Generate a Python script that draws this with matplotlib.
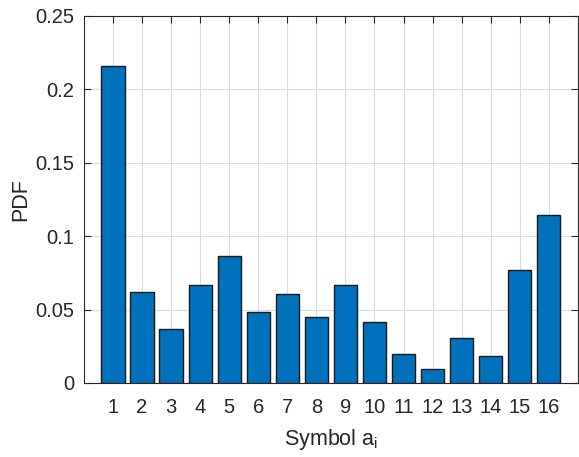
import matplotlib
matplotlib.use('Agg')
import matplotlib.pyplot as plt
import numpy as np

# symbol index and estimated probability
symbols = np.arange(1, 17)
pdf = [0.216, 0.062, 0.0365, 0.0668, 0.0865, 0.0484, 0.0606, 0.045,
       0.0668, 0.0418, 0.0198, 0.0095, 0.0307, 0.0184, 0.077, 0.1145]
yticks = [0, 0.05, 0.1, 0.15, 0.2, 0.25]
ytick_labels = ['0', '0.05', '0.1', '0.15', '0.2', '0.25']

plt.rcParams['font.family'] = ['Liberation Sans', 'DejaVu Sans']
txt = '#262626'

fig = plt.figure(figsize=(5.79, 4.57), dpi=100)
ax = fig.add_axes([0.145, 0.162, 0.853, 0.803])

ax.bar(symbols, pdf, width=0.8, color='#0072BD', edgecolor='#1a1a1a',
       linewidth=1.0, zorder=3)

ax.set_xlim(0, 17)
ax.set_ylim(0, 0.25)
ax.set_xticks(symbols)
ax.set_yticks(yticks)
ax.set_yticklabels(ytick_labels)
ax.grid(True, color='#dcdcdc', linewidth=0.8, zorder=0)
ax.set_axisbelow(True)

ax.tick_params(direction='in', top=True, right=True, length=5,
               labelsize=14.5, colors=txt)
ax.tick_params(axis='x', pad=11)
ax.tick_params(axis='y', pad=7)
for s in ax.spines.values():
    s.set_color(txt)
    s.set_linewidth(0.8)

ax.set_xlabel('Symbol a$_\\mathregular{i}$', fontsize=15.5, color=txt, labelpad=7)
ax.set_ylabel('PDF', fontsize=15.5, color=txt, labelpad=3)

fig.savefig('out.png', dpi=100)
